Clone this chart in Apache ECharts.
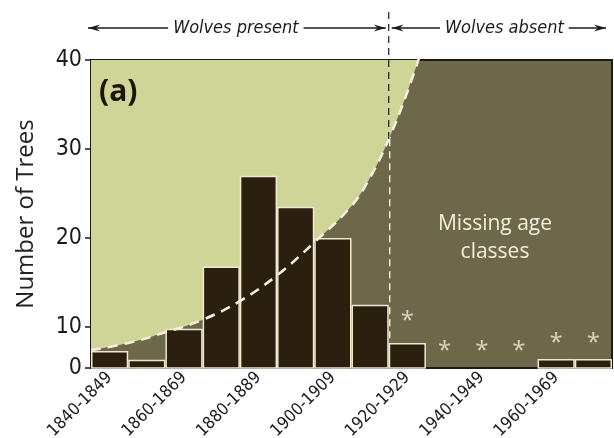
<!DOCTYPE html>
<html>
<head>
    <meta charset="utf-8"/>
    <title>Number of Trees</title>
    <script src="https://cdn.jsdelivr.net/npm/echarts@6/dist/echarts.min.js"></script>
    <style>
        html, body { margin: 0; padding: 0; background: #fff; }
        #chart { width: 614px; height: 438px; }
    </style>
</head>
<body>
<div id="chart"></div>
<script type="text/javascript">
    // age classes (decades)
    const decades = ['1840-1849', '1850-1859', '1860-1869', '1870-1879', '1880-1889', '1890-1899', '1900-1909',
        '1910-1919', '1920-1929', '1930-1939', '1940-1949', '1950-1959', '1960-1969', '1970-1979'];
    // bar heights read in the plotted axis units (the axis bottom is labelled 0)
    const treeCount = [7.3, 6.3, 9.8, 16.8, 27.0, 23.5, 20.0, 12.5, 8.2, null, null, null, 6.4, 6.4];
    // asterisk marks [decade, height]
    const asterisks = [['1920-1929', 11.3], ['1930-1939', 8.0], ['1940-1949', 8.0], ['1950-1959', 8.0],
        ['1960-1969', 8.9], ['1970-1979', 8.9]];
    // expected-survival curve [bin position, value]
    const curveX = [0, 1, 2, 3, 4, 5, 6, 7, 7.5, 8, 8.5, 9];
    const curveY = [7.4, 8.2, 9.4, 10.8, 12.9, 15.8, 19.5, 23.6, 26.8, 31.1, 36.4, 42.6];
    // y axis: bottom of axis labelled 0, then 10..40
    const yMin = 5.38;
    const yTicks = [yMin, 10, 20, 30, 40];
    const yTickLabels = ['0', '10', '20', '30', '40'];
    const splitBin = 8; // wolves removed from 1920-1929 on

    const narrow = "'Liberation Sans Narrow', 'DejaVu Sans Condensed', sans-serif";
    const plain = "'Open Sans', 'Noto Sans', sans-serif";
    const ink = '#1b1b1b';
    const cream = '#f3efdc';

    const curve = curveX.map((x, i) => [x, curveY[i]]);

    let chart = echarts.init(document.getElementById('chart'));
    chart.setOption({
        animation: false,
        grid: {
            left: 91, right: 2, top: 60, bottom: 70, outerBoundsMode: 'none',
            show: true, backgroundColor: '#6e684b', borderWidth: 0
        },
        xAxis: [
            {
                type: 'category',
                data: decades,
                boundaryGap: true,
                axisLine: { lineStyle: { color: ink, width: 2 } },
                axisTick: { inside: true, length: 7, interval: 0, lineStyle: { color: '#cfc9a8', width: 1 } },
                axisLabel: { interval: 1, rotate: 45, margin: 7, color: ink, fontSize: 17, fontFamily: narrow },
                splitLine: { show: false }
            },
            {
                type: 'value', min: 0, max: decades.length, position: 'top',
                axisLine: { show: true, lineStyle: { color: ink, width: 2 } },
                axisTick: { show: false }, axisLabel: { show: false }, splitLine: { show: false }
            }
        ],
        yAxis: [
            {
                type: 'value', min: yMin, max: 40, offset: 3,
                name: 'Number of Trees', nameLocation: 'middle', nameGap: 50,
                nameTextStyle: { fontSize: 24, color: '#222', fontFamily: plain },
                axisLine: { show: true, lineStyle: { color: ink, width: 2 } },
                axisTick: { show: true, length: 6, customValues: yTicks, lineStyle: { color: ink, width: 1.5 } },
                axisLabel: {
                    customValues: yTicks, margin: 6, color: ink, fontSize: 23, fontFamily: narrow,
                    formatter: v => yTickLabels[yTicks.indexOf(v)] ?? ''
                },
                splitLine: { show: false }
            },
            {
                type: 'value', min: yMin, max: 40, position: 'right',
                axisLine: { show: true, lineStyle: { color: ink, width: 2 } },
                axisTick: { show: false }, axisLabel: { show: false }, splitLine: { show: false }
            }
        ],
        series: [
            {
                // light green region above the curve
                type: 'line', xAxisIndex: 1, yAxisIndex: 0, data: curve,
                smooth: 0.4, showSymbol: false, clip: true, z: 1,
                lineStyle: { width: 0 },
                areaStyle: { origin: 'end', color: '#cfd597', opacity: 1 }
            },
            {
                type: 'bar', xAxisIndex: 0, yAxisIndex: 0, data: treeCount,
                barCategoryGap: '0%', z: 2,
                itemStyle: { color: '#2b200f', borderColor: '#efe9cf', borderWidth: 1.5 }
            },
            {
                // dashed curve over the bars
                type: 'line', xAxisIndex: 1, yAxisIndex: 0, data: curve,
                smooth: 0.4, showSymbol: false, clip: true, z: 4,
                lineStyle: { color: cream, width: 2.6, type: [10, 7] }
            },
            {
                type: 'scatter', xAxisIndex: 0, yAxisIndex: 0, data: asterisks,
                symbolSize: 0, z: 5,
                label: {
                    show: true, position: 'inside', formatter: '*', offset: [0, 6],
                    color: cream, fontSize: 24, fontFamily: plain
                }
            }
        ]
    });

    // annotations placed from the chart's own scales
    const toPx = (x, y) => chart.convertToPixel({ seriesIndex: 0 }, [x, y]);
    const [plotLeft, plotTop] = toPx(0, 40);
    const [plotRight, plotBottom] = toPx(decades.length, yMin);
    const splitX = toPx(splitBin, 40)[0];
    const crossY = toPx(splitBin, curveY[curveX.indexOf(splitBin)])[1];
    const barTopY = toPx(splitBin, treeCount[splitBin])[1];
    const arrowY = 28;

    function arrowHead(tipX, dir) {
        return {
            type: 'polygon', z: 10,
            shape: { points: [[tipX, arrowY], [tipX - dir * 12, arrowY - 3.5], [tipX - dir * 8, arrowY], [tipX - dir * 12, arrowY + 3.5]] },
            style: { fill: ink }
        };
    }

    function hline(x1, x2) {
        return { type: 'line', z: 9, shape: { x1: x1, y1: arrowY, x2: x2, y2: arrowY }, style: { stroke: ink, lineWidth: 1.3 } };
    }

    function topLabel(text, x) {
        return {
            type: 'text', z: 11,
            style: {
                text: text, x: x, y: arrowY, align: 'center', verticalAlign: 'middle',
                font: 'italic 18px ' + narrow, fill: ink, backgroundColor: '#fff', padding: [0, 5]
            }
        };
    }

    chart.setOption({
        graphic: [
            // divider between wolves present / absent
            {
                type: 'line', z: 8,
                shape: { x1: splitX, y1: 12, x2: splitX, y2: crossY },
                style: { stroke: ink, lineWidth: 1.2, lineDash: [7, 5] }
            },
            {
                type: 'line', z: 8,
                shape: { x1: splitX + 1, y1: crossY, x2: splitX + 1, y2: barTopY },
                style: { stroke: cream, lineWidth: 1.4, lineDash: [7, 5] }
            },
            hline(plotLeft - 3, splitX - 3),
            arrowHead(plotLeft - 3, -1),
            arrowHead(splitX - 3, 1),
            hline(splitX + 3, plotRight - 6),
            arrowHead(splitX + 3, -1),
            arrowHead(plotRight - 6, 1),
            topLabel('Wolves present', (plotLeft + splitX) / 2 - 4),
            topLabel('Wolves absent', (splitX + plotRight) / 2 + 4),
            {
                type: 'text', z: 10,
                style: { text: '(a)', x: plotLeft + 8, y: plotTop + 32, verticalAlign: 'middle', font: 'bold 30px ' + plain, fill: '#1c1407' }
            },
            {
                type: 'text', z: 10,
                style: {
                    text: 'Missing age\nclasses', x: 495, y: 238, align: 'center', verticalAlign: 'middle',
                    font: '21px ' + plain, lineHeight: 28, fill: cream
                }
            }
        ]
    });
</script>
</body>
</html>
